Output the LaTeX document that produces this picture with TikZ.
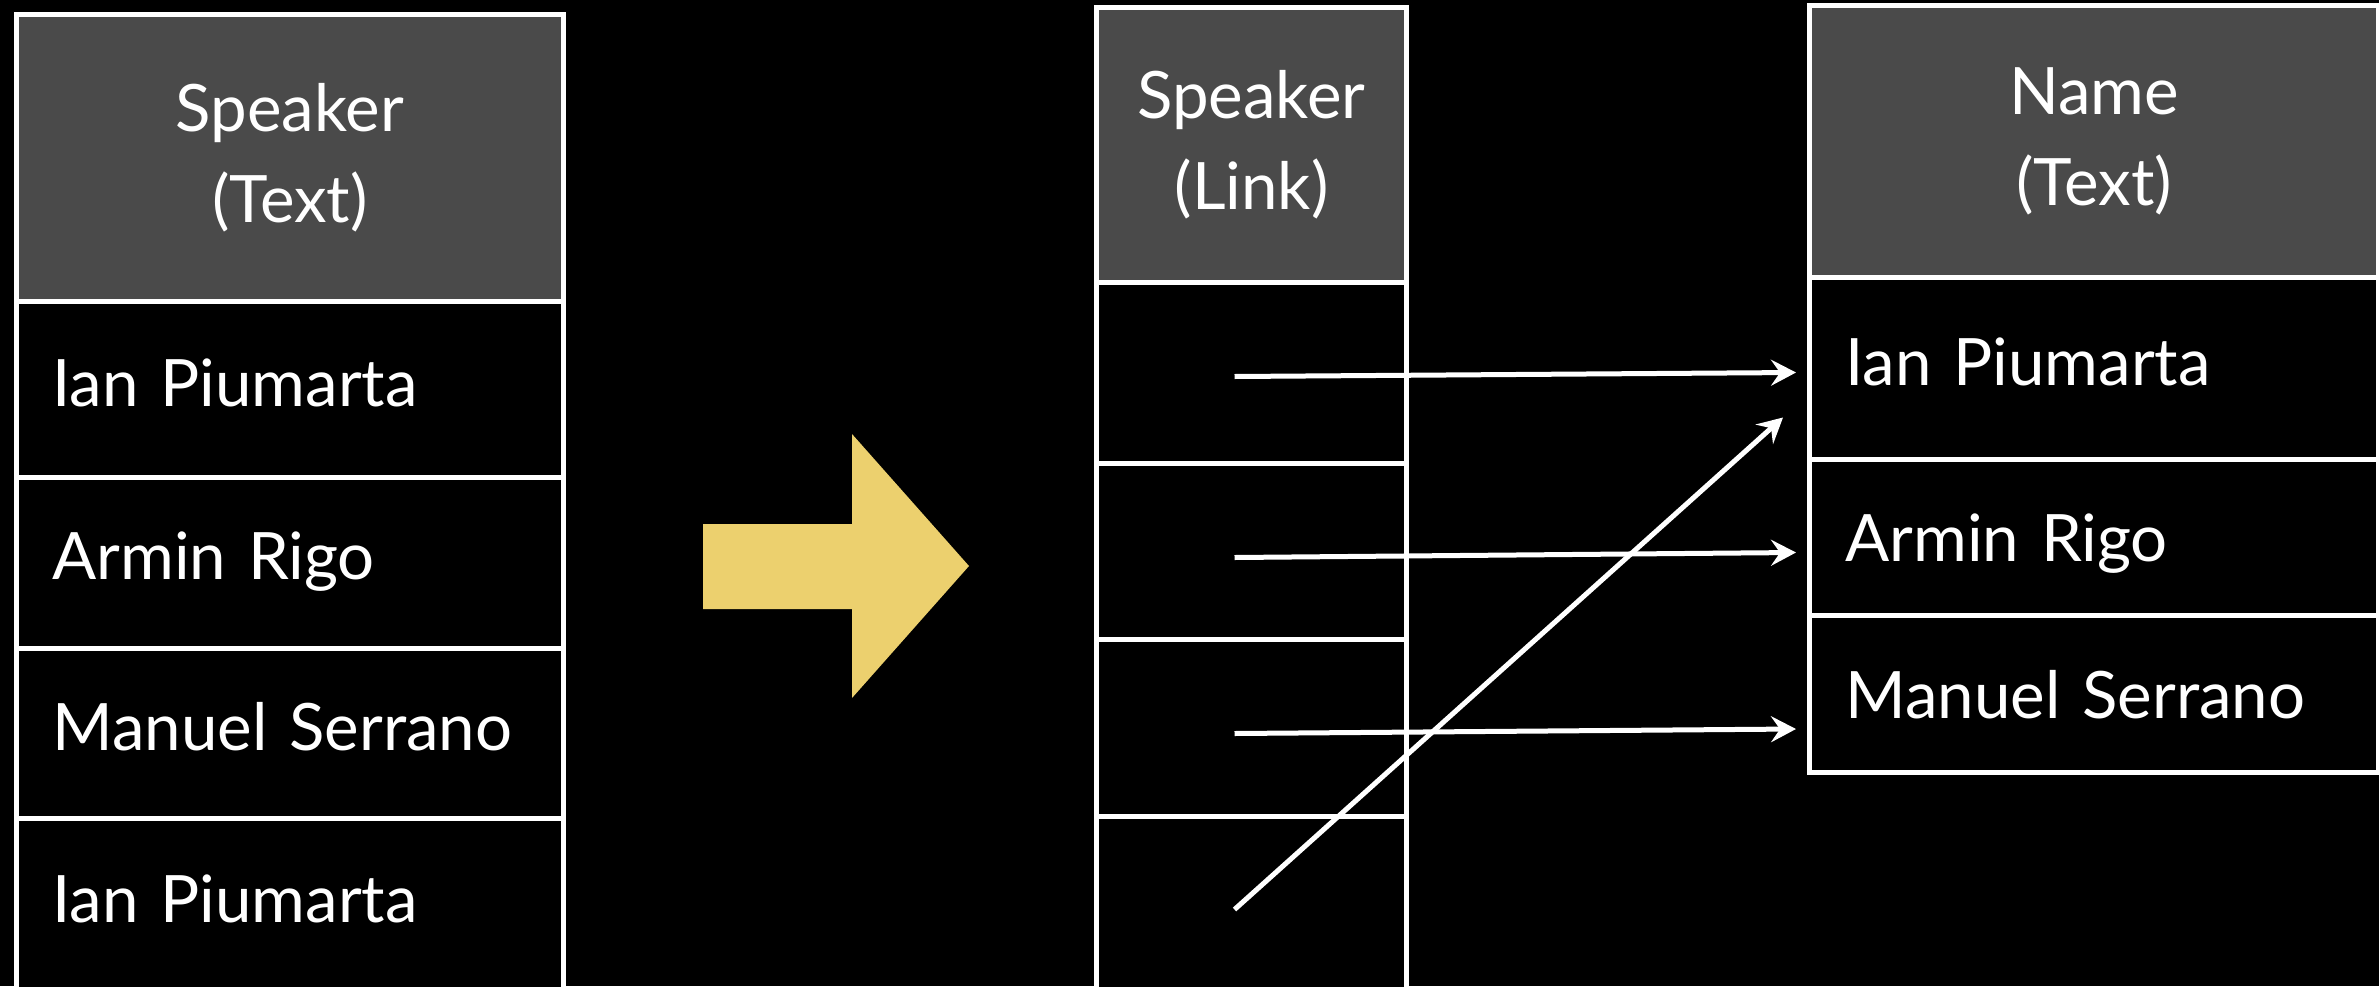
\documentclass[tikz,border=0pt]{standalone}
\usepackage{fontspec}
\setmainfont{Lato}
\usetikzlibrary{arrows.meta}
\definecolor{headgray}{RGB}{74,74,74}
\definecolor{arrowgold}{RGB}{236,208,110}

\begin{document}
\begin{tikzpicture}[
  x=0.1mm, y=-0.1mm,
  every node/.style={font=\fontsize{18.6}{26}\selectfont, text=white},
  cell/.style={draw=white, line width=0.5mm, anchor=north west, inner sep=0pt},
  head/.style={cell, fill=headgray, align=center, minimum width=#1},
  row/.style={cell, fill=black, align=left, inner xsep=3.6mm, text width=#1, text height=6mm, text depth=2.7mm},
  empty/.style={cell, fill=black, minimum width=#1},
  link/.style={draw=white, line width=0.5mm, -{Stealth[length=2.5mm,width=2.6mm,inset=0.9mm]}}
]
\fill[black, use as bounding box] (0,0) rectangle (2379,986);

\node[head=54.7mm, minimum height=28.7mm] (sphead) at (14,12) {Speaker\\(Text)};
\foreach \y/\h/\txt [count=\i] in {299/17.6/Ian Piumarta, 475/17.1/Armin Rigo, 646/17.0/Manuel Serrano, 816/17.4/Ian Piumarta}
  \node[row=47.5mm, minimum height=\h mm] (sp\i) at (14,\y) {\txt};

\fill[arrowgold] (703,524) -- (852,524) -- (852,434) -- (969,566) -- (852,698) -- (852,609) -- (703,609) -- cycle;

\node[head=31mm, minimum height=27.5mm] (lkhead) at (1094,5) {Speaker\\(Link)};
\foreach \y/\h [count=\i] in {280/18.1, 461/17.6, 637/17.7, 814/18.1}
  \node[empty=31mm, minimum height=\h mm] (lk\i) at (1094,\y) {};

\node[head=56.9mm, minimum height=27.2mm] (nmhead) at (1807,3) {Name\\(Text)};
\foreach \y/\h/\th/\txt [count=\i] in {275/18.2/6/Ian Piumarta, 457/15.6/7.5/Armin Rigo, 613/15.7/7.5/Manuel Serrano}
  \node[row=49.7mm, minimum height=\h mm, text height=\th mm] (nm\i) at (1807,\y) {\txt};

\draw[link] ([xshift=-1.7mm,yshift=-0.35mm]lk1.center) -- ([xshift=-1.1mm,yshift=-0.4mm]nm1.west);
\draw[link] ([xshift=-1.7mm,yshift=-0.6mm]lk2.center) -- ([xshift=-1.1mm,yshift=-1.5mm]nm2.west);
\draw[link] ([xshift=-1.7mm,yshift=-0.55mm]lk3.center) -- ([xshift=-1.1mm,yshift=-3.5mm]nm3.west);
\draw[link] ([xshift=-1.7mm,yshift=-0.25mm]lk4.center) -- ([xshift=-2.4mm,yshift=-4.9mm]nm1.west);
\end{tikzpicture}
\end{document}
